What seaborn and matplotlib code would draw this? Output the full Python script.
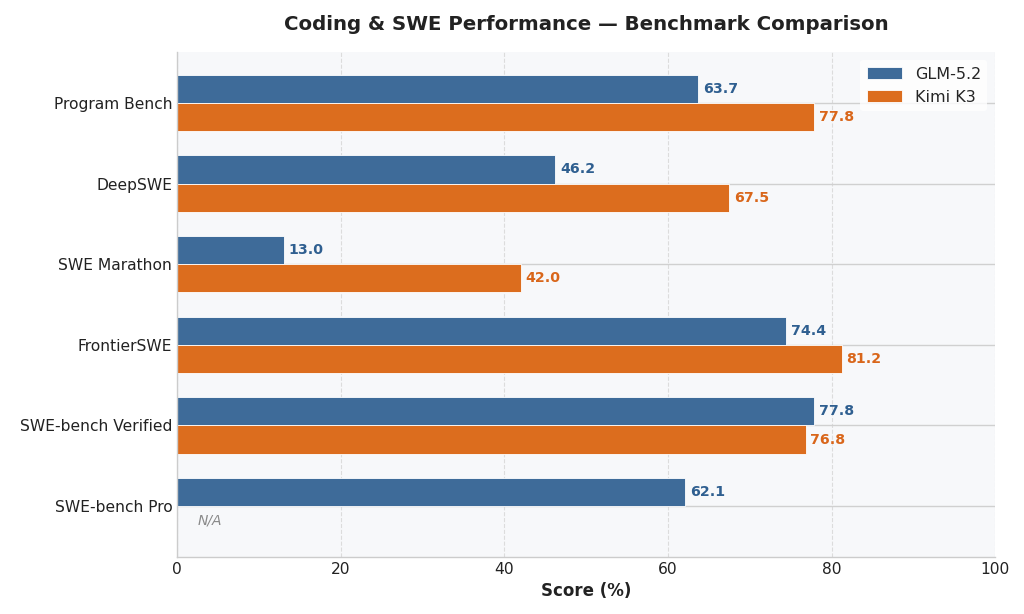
import matplotlib
matplotlib.use('Agg')
import matplotlib.pyplot as plt
import pandas as pd
import seaborn as sns

sns.set_style('whitegrid')
plt.rcParams['font.family'] = ['DejaVu Sans']

benchmarks = ['Program Bench', 'DeepSWE', 'SWE Marathon', 'FrontierSWE',
              'SWE-bench Verified', 'SWE-bench Pro']
glm_scores = [63.7, 46.2, 13.0, 74.4, 77.8, 62.1]
kimi_scores = [77.8, 67.5, 42.0, 81.2, 76.8, None]
models = ['GLM-5.2', 'Kimi K3']
x_ticks = [0, 20, 40, 60, 80, 100]

colors = {'GLM-5.2': '#3e6b99', 'Kimi K3': '#dc6d1e'}
label_colors = {'GLM-5.2': '#2f5f90', 'Kimi K3': '#d9661a'}

df = pd.DataFrame({
    'Benchmark': benchmarks * 2,
    'Model': [models[0]] * len(benchmarks) + [models[1]] * len(benchmarks),
    'Score': glm_scores + kimi_scores,
})

fig, ax = plt.subplots(figsize=(10.24, 6.14), dpi=100)
fig.subplots_adjust(left=0.173, right=0.972, top=0.915, bottom=0.093)
ax.set_facecolor('#f7f8fa')

sns.barplot(data=df.dropna(), y='Benchmark', x='Score', hue='Model',
            order=benchmarks, hue_order=models, palette=colors,
            saturation=1, orient='h', width=0.7, edgecolor='white',
            linewidth=0.6, errorbar=None, ax=ax)

# value labels
for i, m in enumerate(models):
    vals = glm_scores if i == 0 else kimi_scores
    off = -0.175 if i == 0 else 0.175
    for j, v in enumerate(vals):
        if v is None:
            ax.text(2.5, j + off, 'N/A', va='center', ha='left',
                    fontsize=10, style='italic', color='#8a8a8a')
        else:
            ax.text(v + 0.6, j + off, f'{v:.1f}', va='center', ha='left',
                    fontsize=10.2, fontweight='bold', color=label_colors[m])

ax.set_xlim(0, 100)
ax.set_ylim(5.63, -0.63)
ax.set_xticks(x_ticks)
ax.set_xlabel('Score (%)', fontsize=12, fontweight='bold', color='#222222')
ax.set_ylabel('')
ax.tick_params(axis='both', labelsize=11.2, colors='#222222', length=0)
ax.set_title('Coding & SWE Performance — Benchmark Comparison',
             fontsize=14.2, fontweight='bold', color='#222222', pad=16)

ax.grid(axis='x', linestyle='--', color='#dcdcdc', linewidth=0.8)
ax.grid(axis='y', linestyle='-', color='#d0d0d0', linewidth=1.0)
ax.set_axisbelow(True)
for s in ['top', 'right']:
    ax.spines[s].set_visible(False)
for s in ['left', 'bottom']:
    ax.spines[s].set_color('#cccccc')
    ax.spines[s].set_linewidth(1.0)

leg = ax.legend(loc='upper right', fontsize=11.5, frameon=True, framealpha=0.8,
                edgecolor='none', facecolor='white', handlelength=2.2)

fig.savefig('out.png', dpi=100)
